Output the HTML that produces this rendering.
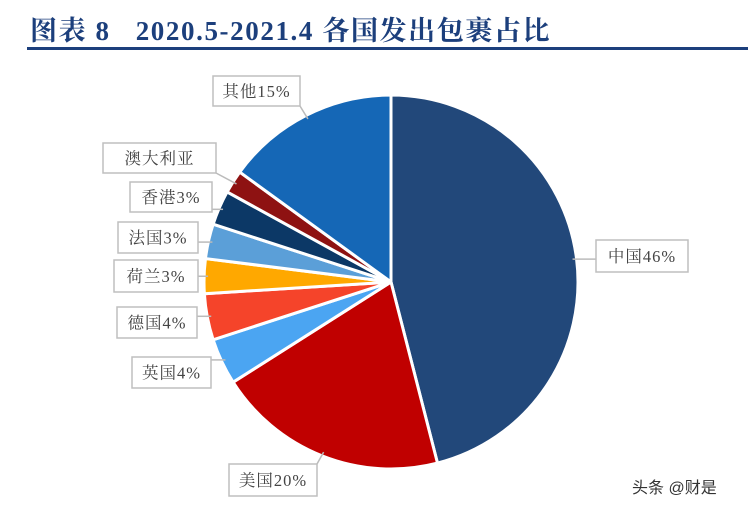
<!DOCTYPE html>
<html><head><meta charset="utf-8">
<style>
body{margin:0;background:#fff;width:748px;height:508px;overflow:hidden;position:relative;font-family:"Liberation Serif","Noto Serif CJK SC",serif;}
#title{position:absolute;left:30px;top:9px;font-size:27px;font-weight:bold;color:#1c3f7c;letter-spacing:1.6px;white-space:nowrap;}
#rule{position:absolute;left:27px;top:47px;width:721px;height:3px;background:#1c3f7c;}
#wm{position:absolute;left:632px;top:474px;font-family:"Liberation Sans","Noto Sans CJK SC",sans-serif;font-size:16px;color:#333;}
</style></head><body>
<div id="title">图表 8&nbsp;&nbsp;&nbsp;2020.5-2021.4 各国发出包裹占比</div>
<div id="rule"></div>
<svg id="chart" width="748" height="508" style="position:absolute;left:0;top:0"></svg>
<div id="wm">头条 @财是</div>
<script>
const categories=["中国","美国","英国","德国","荷兰","法国","香港","澳大利亚","其他"];
const values=[46,20,4,4,3,3,3,2,15];
const labelTexts=["中国46%","美国20%","英国4%","德国4%","荷兰3%","法国3%","香港3%","澳大利亚","其他15%"];
const colors=["#22487a","#c00000","#4ba5f2","#f5442a","#ffa800","#5b9fd8","#0c3866","#8e1212","#1567b6"];
const boxes=[[596,240,92,32],[229,464,88,32],[132,357,79,31],[117,307,80,31],[114,260,84,32],[118,222,80,31],[130,182,82,30],[103,143,113,30],[213,76,87,30]];
const svg=document.getElementById('chart');
const NS='http://www.w3.org/2000/svg';
const cx=391,cy=282,r=187;
const total=values.reduce((a,b)=>a+b,0);
function pt(a,rr){return [cx+rr*Math.sin(a),cy-rr*Math.cos(a)];}
let acc=0;
values.forEach((v,i)=>{
  const a0=acc/total*2*Math.PI; acc+=v; const a1=acc/total*2*Math.PI;
  const p0=pt(a0,r),p1=pt(a1,r);
  const path=document.createElementNS(NS,'path');
  path.setAttribute('d',`M${cx},${cy}L${p0[0]},${p0[1]}A${r},${r} 0 ${a1-a0>Math.PI?1:0} 1 ${p1[0]},${p1[1]}Z`);
  path.setAttribute('fill',colors[i]);path.setAttribute('stroke','#fff');path.setAttribute('stroke-width','3');
  
  
  svg.appendChild(path);
  const am=(a0+a1)/2; const pe=pt(am,r-4);
  const b=boxes[i];
  const bx=Math.max(b[0],Math.min(b[0]+b[2],pe[0])),by=Math.max(b[1],Math.min(b[1]+b[3],pe[1]));
  const ln=document.createElementNS(NS,'line');
  ln.setAttribute('x1',bx);ln.setAttribute('y1',by);ln.setAttribute('x2',pe[0]);ln.setAttribute('y2',pe[1]);
  ln.setAttribute('stroke','#bbb');ln.setAttribute('stroke-width','1.5');
  
  
  svg.appendChild(ln);
  const rect=document.createElementNS(NS,'rect');
  rect.setAttribute('x',b[0]);rect.setAttribute('y',b[1]);rect.setAttribute('width',b[2]);rect.setAttribute('height',b[3]);
  rect.setAttribute('fill','#fff');rect.setAttribute('stroke','#bfbfbf');rect.setAttribute('stroke-width','1.5');
  
  
  svg.appendChild(rect);
  const t=document.createElementNS(NS,'text');
  t.setAttribute('x',b[0]+b[2]/2);t.setAttribute('y',b[1]+b[3]/2+6);t.setAttribute('text-anchor','middle');
  t.setAttribute('font-size','16.5');t.setAttribute('fill','#444');t.setAttribute('letter-spacing','1');
  t.setAttribute('font-family','"Liberation Serif","Noto Serif CJK SC",serif');
  t.textContent=labelTexts[i];
  
  
  svg.appendChild(t);
});
</script>
</body></html>
